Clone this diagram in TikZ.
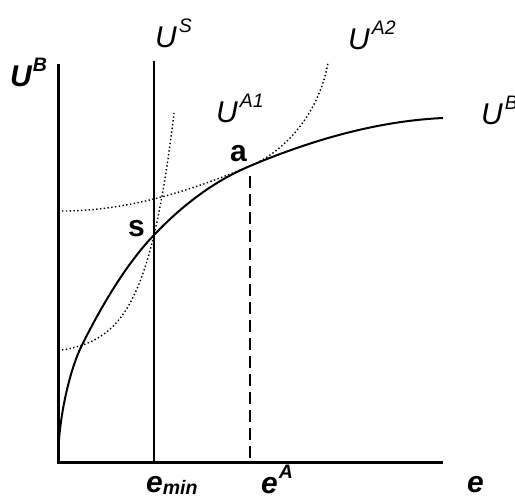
\documentclass[tikz,border=0pt]{standalone}
\usepackage{fontspec}
\setmainfont{Liberation Sans}
\newcommand\mysupr[1]{\raisebox{15pt}{\fontsize{19.5}{20}\selectfont #1}}
\newcommand\mysubr[1]{\raisebox{-2pt}{\fontsize{19.5}{20}\selectfont #1}}
\begin{document}
\begin{tikzpicture}[x=1pt,y=-1pt,
  lbl/.style={inner sep=0pt, anchor=base west, font=\fontsize{30}{34}\selectfont\itshape},
  lblb/.style={inner sep=0pt, anchor=base west, font=\fontsize{30}{34}\selectfont\bfseries\itshape},
  pt/.style={inner sep=0pt, anchor=base west, font=\fontsize{30}{34}\selectfont\bfseries},
  axis/.style={line width=3pt, miter limit=10},
  thinline/.style={line width=1.4pt},
  curve/.style={line width=2pt},
  dotcurve/.style={line width=1.4pt, dash pattern=on 1.4pt off 2.4pt},
  dashline/.style={line width=2pt, dash pattern=on 12pt off 6pt}]
\useasboundingbox (0,0) rectangle (515,497);
% axes
\coordinate (ytop) at (58,64);
\coordinate (O) at (58,463);
\coordinate (xend) at (443,463);
\draw[axis] (ytop) -- (O) -- (xend);
% U^S line
\coordinate (ustop) at (154,61);
\coordinate (usbot) at (154,463);
\draw[thinline] (ustop) -- (usbot);
% key points
\coordinate (k1) at (82,345);
\coordinate (s) at (154,235);
\coordinate (a) at (250,166);
\coordinate (ubend) at (443,118);
% dashed line from a
\coordinate (atop) at (250,176);
\coordinate (abot) at (250,463);
\draw[dashline] (atop) -- (abot);
% U^B curve
\draw[curve] (O) .. controls (58,418) and (70,369) .. (k1)
  .. controls (106,297) and (130,260) .. (s)
  .. controls (186,201.4) and (218,179.4) .. (a)
  .. controls (314,139) and (379,121) .. (ubend);
% U^A2 dotted curve tangent at a
\coordinate (a2start) at (62,211);
\coordinate (a2end) at (328,63);
\draw[dotcurve] (a2start) .. controls (125,211) and (187,192.5) .. (a)
  .. controls (290,149.2) and (320,108) .. (a2end);
% U^A1 dotted curve through s
\draw[dotcurve] plot[domain=62:174, samples=60, smooth] (\x, {350 - 4.75*(exp((\x-62)/28.5)-1)});
% labels
\node[lblb] (lUB) at (10,87) {U\kern1pt\mysupr{B}};
\node[lbl] (lUS) at (155,48) {U\kern2pt\mysupr{S}};
\node[lbl] (lUA2) at (348,50) {U\kern2pt\mysupr{A2}};
\node[lbl] (lUA1) at (216,123) {U\kern2pt\mysupr{A1}};
\node[lbl] (lUBr) at (481,125) {U\kern2pt\mysupr{B}};
\node[pt] (la) at (230,162) {a};
\node[pt] (ls) at (128,237) {s};
\node[lblb] (lemin) at (146,493) {e\mysubr{min}};
\node[lblb] (leA) at (261,494) {e\kern1pt\mysupr{A}};
\node[lblb] (le) at (467,493) {e};
\end{tikzpicture}
\end{document}
